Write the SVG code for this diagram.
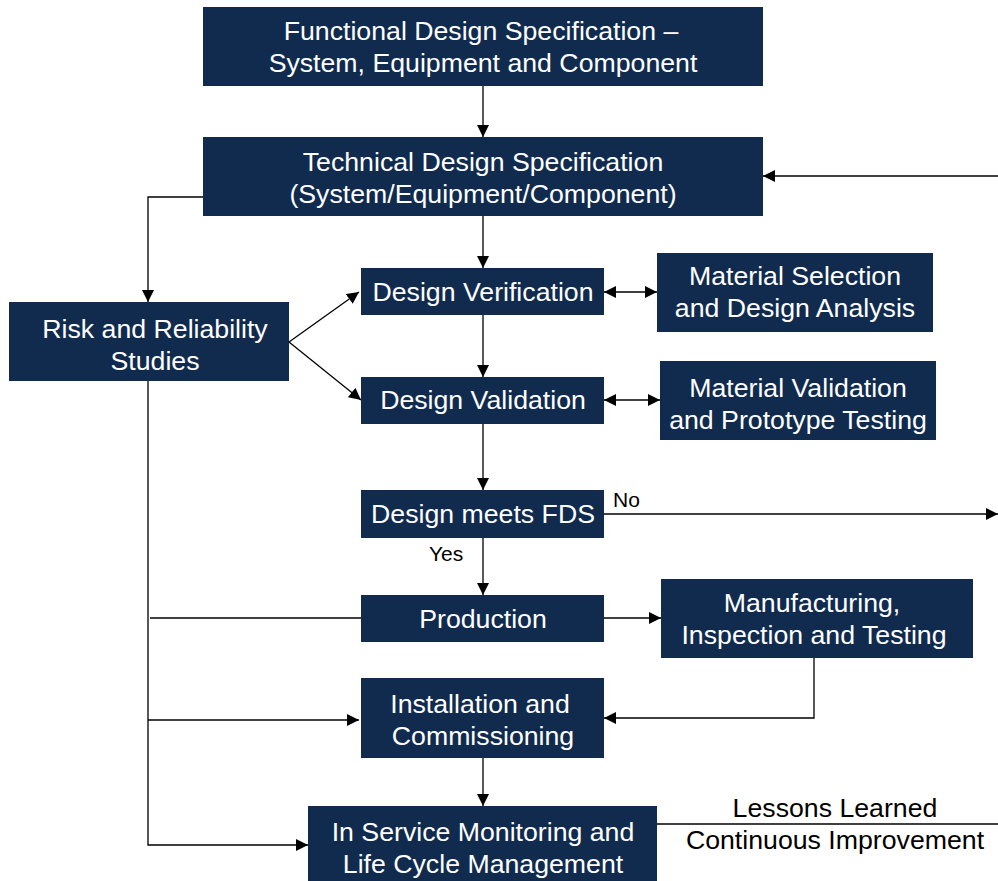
<svg xmlns="http://www.w3.org/2000/svg" width="998" height="881" viewBox="0 0 998 881">
<defs>
<style>
.box{fill:#112b4f}
.t{font-family:"Liberation Sans",Arial,sans-serif;font-size:26.7px;fill:#ffffff;text-anchor:middle}
.lbl{font-family:"Liberation Sans",Arial,sans-serif;font-size:26.7px;fill:#000000;text-anchor:middle}
.sm{font-family:"Liberation Sans",Arial,sans-serif;font-size:21px;fill:#000000}
.c{fill:none;stroke:#000000;stroke-width:1.3}
</style>
<marker id="a" viewBox="0 0 10 10" refX="10" refY="5" markerWidth="12" markerHeight="12" markerUnits="userSpaceOnUse" orient="auto-start-reverse">
<path d="M0,0 L10,5 L0,10 z" fill="#000"/>
</marker>
</defs>
<rect width="998" height="881" fill="#ffffff"/>
<g id="connectors">
<path class="c" d="M483,86 V137" marker-end="url(#a)"/>
<path class="c" d="M998,176 H763" marker-end="url(#a)"/>
<path class="c" d="M203,197 H148 V302" marker-end="url(#a)"/>
<path class="c" d="M483,216 V268" marker-end="url(#a)"/>
<path class="c" d="M289,342 L359,292" marker-end="url(#a)"/>
<path class="c" d="M289,342 L361,400" marker-end="url(#a)"/>
<path class="c" d="M604,292 H657" marker-start="url(#a)" marker-end="url(#a)"/>
<path class="c" d="M483,315 V377" marker-end="url(#a)"/>
<path class="c" d="M604,400 H660" marker-start="url(#a)" marker-end="url(#a)"/>
<path class="c" d="M483,424 V490" marker-end="url(#a)"/>
<path class="c" d="M604,514 H998" marker-end="url(#a)"/>
<path class="c" d="M483,538 V595" marker-end="url(#a)"/>
<path class="c" d="M148,381 V845 H308" marker-end="url(#a)"/>
<path class="c" d="M150,618 H361"/>
<path class="c" d="M148,720 H359" marker-end="url(#a)"/>
<path class="c" d="M604,618 H661" marker-end="url(#a)"/>
<path class="c" d="M814,658 V718 H604" marker-end="url(#a)"/>
<path class="c" d="M483,758 V806" marker-end="url(#a)"/>
<path class="c" d="M657,824 H998"/>
<text class="sm" x="613" y="507">No</text>
<text class="sm" x="429" y="561">Yes</text>
<text class="lbl" x="835" y="817">Lessons Learned</text>
<text class="lbl" x="835" y="849">Continuous Improvement</text>
</g>
<g id="n1"><rect class="box" x="203" y="7" width="560" height="79"/><text class="t" x="481" y="40">Functional Design Specification –</text><text class="t" x="483" y="72">System, Equipment and Component</text></g>
<g id="n2"><rect class="box" x="203" y="137" width="560" height="79"/><text class="t" x="483" y="171">Technical Design Specification</text><text class="t" x="483" y="203">(System/Equipment/Component)</text></g>
<g id="n3"><rect class="box" x="361" y="268" width="243" height="47"/><text class="t" x="483" y="301">Design Verification</text></g>
<g id="n4"><rect class="box" x="657" y="253" width="276" height="79"/><text class="t" x="795" y="285">Material Selection</text><text class="t" x="795" y="317">and Design Analysis</text></g>
<g id="n5"><rect class="box" x="9" y="302" width="280" height="79"/><text class="t" x="155" y="338">Risk and Reliability</text><text class="t" x="155" y="370">Studies</text></g>
<g id="n6"><rect class="box" x="361" y="377" width="243" height="47"/><text class="t" x="483" y="409">Design Validation</text></g>
<g id="n7"><rect class="box" x="660" y="361" width="276" height="79"/><text class="t" x="798" y="397">Material Validation</text><text class="t" x="798" y="429">and Prototype Testing</text></g>
<g id="n8"><rect class="box" x="361" y="490" width="243" height="48"/><text class="t" x="483" y="523">Design meets FDS</text></g>
<g id="n9"><rect class="box" x="361" y="595" width="243" height="47"/><text class="t" x="483" y="628">Production</text></g>
<g id="n10"><rect class="box" x="661" y="579" width="312" height="79"/><text class="t" x="812" y="612">Manufacturing,</text><text class="t" x="814" y="644">Inspection and Testing</text></g>
<g id="n11"><rect class="box" x="361" y="678" width="243" height="80"/><text class="t" x="480" y="713">Installation and</text><text class="t" x="483" y="745">Commissioning</text></g>
<g id="n12"><rect class="box" x="308" y="806" width="349" height="75"/><text class="t" x="483" y="841">In Service Monitoring and</text><text class="t" x="483" y="873">Life Cycle Management</text></g>
</svg>
